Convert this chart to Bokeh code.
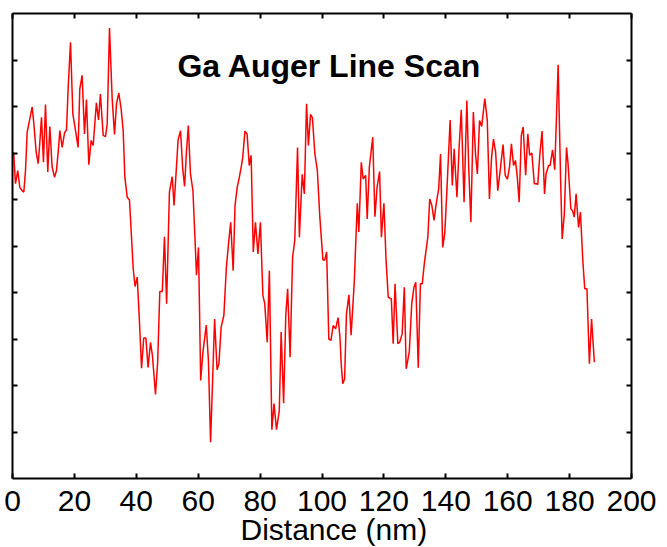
from bokeh.plotting import figure
from bokeh.models import Range1d, LinearAxis, FixedTicker, Label, Title, CustomJSTickFormatter
from bokeh.embed import file_html
from bokeh.resources import INLINE

# Ga Auger line scan (distance in nm, intensity in arbitrary units)
distance = [
    0.0, 0.4, 0.97, 1.7, 2.37, 3.1, 3.66, 4.2, 4.74, 5.5, 6.36, 6.9, 7.65, 8.3, 8.8, 9.37,
    10.0, 10.66, 11.4, 12.06, 12.8, 13.57, 14.2, 14.76, 15.3, 16.05, 16.8, 17.45, 18.0,
    18.74, 19.5, 20.36, 21.2, 21.75, 22.5, 23.26, 23.9, 24.66, 25.4, 26.07, 27.1, 27.8,
    28.4, 29.3, 30.05, 30.6, 31.34, 32.2, 32.96, 33.6, 34.35, 35.1, 35.76, 36.3, 37.06,
    37.8, 38.45, 39.0, 39.6, 40.3, 41.0, 41.7, 42.4, 43.1, 43.8, 44.6, 45.2, 46.2, 46.9,
    47.6, 48.4, 49.1, 49.8, 50.7, 51.6, 52.2, 52.9, 53.5, 54.3, 55.0, 55.6, 56.2, 56.8,
    57.5, 58.3, 58.9, 59.45, 60.1, 60.8, 61.5, 62.6, 63.3, 64.0, 65.3, 66.1, 66.7, 67.4,
    68.3, 69.1, 69.9, 70.5, 71.3, 71.9, 72.6, 73.3, 73.9, 74.4, 75.1, 75.8, 76.5, 77.1,
    77.8, 78.5, 79.3, 80.1, 80.9, 81.5, 82.3, 83.0, 83.8, 84.5, 85.3, 86.2, 86.8, 87.6,
    88.3, 88.9, 89.7, 90.5, 91.2, 92.1, 92.7, 93.6, 94.3, 95.0, 95.6, 96.3, 96.9, 97.7,
    98.5, 99.3, 100.3, 100.9, 101.5, 102.2, 102.9, 103.6, 104.4, 105.2, 105.8, 106.2,
    106.7, 107.3, 107.9, 108.7, 109.4, 110.4, 111.4, 111.9, 112.7, 113.3, 114.1, 114.6,
    115.3, 116.4, 117.1, 117.8, 118.6, 119.2, 120.0, 120.7, 121.4, 122.4, 123.0, 123.6,
    124.5, 125.1, 125.9, 126.6, 127.2, 128.2, 129.0, 129.7, 130.3, 131.1, 131.8, 132.4,
    133.1, 134.2, 134.8, 135.5, 136.2, 136.9, 137.7, 138.3, 139.0, 139.7, 140.4, 141.4,
    142.1, 142.7, 143.6, 144.3, 145.0, 145.9, 146.8, 147.4, 148.1, 148.9, 149.6, 150.2,
    150.9, 151.6, 152.6, 153.4, 154.1, 154.8, 155.4, 156.1, 156.8, 157.7, 158.5, 159.2,
    159.9, 160.6, 161.2, 161.9, 162.5, 163.1, 163.7, 164.4, 165.0, 165.8, 166.5, 167.1,
    167.8, 168.6, 169.3, 169.7, 170.4, 171.1, 171.9, 172.4, 173.2, 173.7, 174.5, 175.2,
    176.3, 177.1, 177.6, 178.3, 179.0, 179.5, 180.4, 181.0, 181.5, 182.1, 182.9, 183.5,
    184.3, 184.9, 185.6, 186.4, 187.1, 188.0,
]
intensity = [
    7.02, 6.98, 6.34, 6.62, 6.26, 6.19, 6.16, 6.62, 7.45, 7.70, 7.99, 7.63, 7.02, 6.77, 7.20, 7.77,
    6.80, 8.04, 6.59, 7.57, 6.70, 6.48, 6.62, 7.02, 7.48, 7.12, 7.43, 7.50, 8.42,
    9.38, 7.84, 7.48, 7.12, 8.38, 8.67, 7.41, 8.15, 6.75, 7.27, 7.16, 8.08, 7.71,
    8.27, 7.38, 7.35, 7.63, 9.69, 8.17, 7.40, 8.06, 8.29, 7.95, 7.48, 6.48, 6.05,
    5.99, 5.19, 4.51, 4.13, 4.33, 3.40, 2.37, 3.02, 3.02, 2.39, 2.93, 2.65, 1.81, 2.50,
    4.02, 4.02, 5.20, 3.76, 6.16, 6.49, 5.87, 6.62, 7.28, 7.48, 6.66, 6.28, 7.02, 7.59,
    6.55, 6.19, 5.26, 4.37, 4.97, 2.11, 2.70, 3.30, 2.54, 0.78, 3.43, 2.34, 2.47, 3.25,
    3.51, 4.54, 5.12, 5.51, 4.47, 5.87, 6.26, 6.48, 6.70, 6.91, 7.47, 7.41, 6.73, 6.95,
    4.87, 5.51, 4.83, 5.51, 3.94, 3.76, 2.93, 4.47, 1.05, 1.61, 1.05, 1.46, 3.15, 1.62,
    3.51, 4.08, 2.61, 4.76, 5.12, 7.12, 5.19, 6.54, 6.12, 8.06, 7.16, 7.83, 7.76, 6.98,
    6.62, 5.62, 4.70, 4.70, 4.87, 3.00, 2.97, 3.29, 3.22, 3.46, 3.04, 2.47,
    2.04, 2.14, 3.54, 3.95, 3.08, 4.19, 5.92, 5.30, 6.80, 6.44, 6.52, 5.58,
    6.70, 7.34, 5.63, 6.26, 6.60, 5.19, 5.92, 4.69, 3.90, 3.86, 2.90, 4.19,
    2.90, 2.93, 3.11, 4.11, 2.36, 2.72, 3.76, 4.11, 4.22, 2.38, 4.19, 4.19,
    4.65, 5.19, 6.01, 5.87, 5.55, 5.91, 6.23, 6.98, 4.97, 5.30, 6.26, 7.71,
    6.30, 7.09, 6.05, 7.12, 7.93, 5.94, 8.13, 6.70, 5.51, 7.88, 6.98, 6.55,
    7.70, 7.57, 8.17, 7.70, 6.01, 6.91, 7.30, 7.02, 6.19, 6.70, 7.18, 6.52,
    6.44, 6.70, 7.20, 6.73, 6.84, 6.48, 5.94, 7.38, 7.56, 6.52, 7.41, 6.95,
    7.00, 6.34, 6.34, 6.32, 6.98, 7.47, 6.12, 6.55, 6.73, 6.73, 7.07, 6.64,
    8.90, 6.41, 5.15, 5.69, 7.12, 6.77, 5.80, 5.75, 5.62, 6.12, 5.40, 5.73,
    4.65, 4.08, 4.08, 2.47, 3.43, 2.50,
]

x_ticks = [0, 20, 40, 60, 80, 100, 120, 140, 160, 180, 200]
y_ticks = [1, 2, 3, 4, 5, 6, 7, 8, 9]

title_text = "Ga Auger Line Scan"
x_label_text = "Distance (nm)"

FONT = "Liberation Sans"

p = figure(width=667, height=547, x_range=Range1d(0, 200), y_range=Range1d(0, 10),
           output_backend="svg", toolbar_location=None,
           x_axis_location=None, y_axis_location=None,
           min_border_left=12, min_border_top=13, min_border_right=36, min_border_bottom=69)
p.grid.visible = False
p.outline_line_color = None
p.background_fill_color = "white"
p.border_fill_color = "white"


def make_axis(ticks, labelled):
    ax = LinearAxis(ticker=FixedTicker(ticks=ticks, minor_ticks=[]))
    ax.major_tick_in = 5
    ax.major_tick_out = 0
    ax.major_tick_line_width = 2
    ax.major_tick_line_color = "black"
    ax.axis_line_width = 2
    ax.axis_line_color = "black"
    ax.minor_tick_line_color = None
    if labelled:
        ax.major_label_standoff = 12
        ax.major_label_text_font = FONT
        ax.major_label_text_font_size = "30px"
        ax.major_label_text_color = "black"
    else:
        ax.major_label_standoff = 0
        ax.formatter = CustomJSTickFormatter(code="return ''")
    return ax


p.add_layout(make_axis(x_ticks, True), "below")
p.add_layout(make_axis(x_ticks, False), "above")
p.add_layout(make_axis(y_ticks, False), "left")
p.add_layout(make_axis(y_ticks, False), "right")

p.line(distance, intensity, line_color="#ff0000", line_width=1.5)

p.add_layout(Title(text=x_label_text, align="left", offset=228, standoff=-6,
                   text_font=FONT, text_font_size="30px", text_font_style="normal",
                   text_color="black"), "below")

p.add_layout(Label(x=102.4, y=8.88, text=title_text,
                   text_align="center", text_baseline="alphabetic",
                   text_font=FONT, text_font_size="32px", text_font_style="bold",
                   text_color="black"))

open("out.html", "w").write(file_html(p, INLINE))
